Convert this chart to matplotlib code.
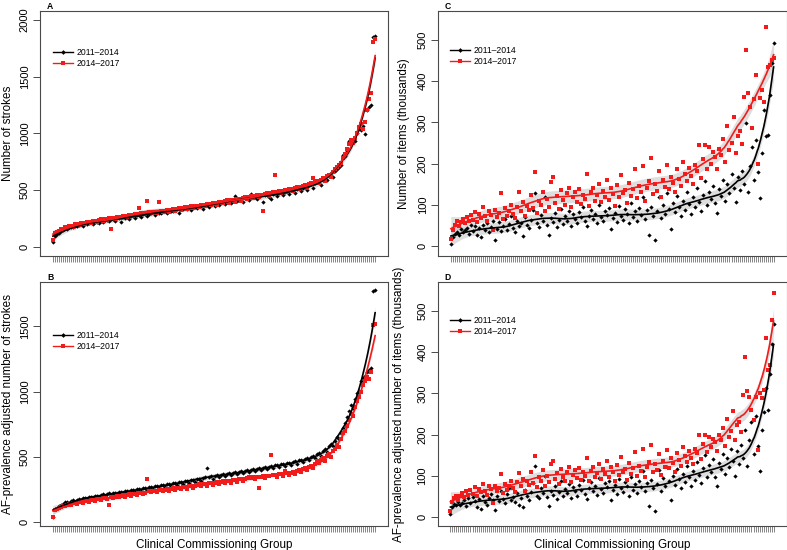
"""Four-panel CCG chart: strokes and prescription items, 2011-2014 vs 2014-2017.

Points are CCGs ordered along the x axis; curves are local quadratic (loess)
fits with 95% bands.
"""

import matplotlib

matplotlib.use("Agg")
import matplotlib.pyplot as plt
import numpy as np
from matplotlib.lines import Line2D

plt.rcParams["font.family"] = ["Liberation Sans", "DejaVu Sans"]

PERIODS = ["2011\u20132014", "2014\u20132017"]
COLORS = ["#000000", "#f21b1b"]
MARKERS = ["D", "s"]
MARKER_SIZES = [2.2, 2.4]

# Panel A: number of strokes per CCG
STROKES_1114 = [
    40, 96, 115, 124, 142, 147, 161, 158, 172, 178,
    170, 186, 183, 190, 201, 187, 207, 199, 211, 216,
    196, 214, 221, 212, 229, 216, 233, 238, 223, 242,
    247, 231, 251, 254, 214, 259, 256, 264, 246, 269,
    272, 255, 278, 281, 264, 287, 292, 270, 289, 297,
    302, 283, 307, 300, 296, 313, 317, 294, 322, 319,
    311, 327, 333, 301, 338, 329, 343, 331, 347, 321,
    352, 350, 340, 357, 363, 336, 367, 372, 351, 378,
    383, 360, 386, 371, 393, 397, 377, 402, 408, 386,
    412, 447, 401, 417, 423, 397, 428, 431, 410, 468,
    437, 442, 418, 447, 452, 396, 456, 463, 438, 422,
    467, 472, 450, 477, 483, 460, 487, 492, 468, 497,
    503, 476, 507, 514, 489, 522, 530, 503, 543, 549,
    518, 558, 575, 583, 546, 602, 614, 588, 632, 647,
    618, 670, 688, 703, 722, 808, 797, 846, 932, 902,
    948, 937, 1003, 1042, 1028, 1062, 993, 1203, 1232, 1248,
    1852, 1860,
]
STROKES_1417 = [
    60, 118, 131, 140, 153, 158, 170, 171, 182, 187,
    177, 196, 202, 191, 207, 211, 197, 217, 222, 211,
    226, 231, 217, 236, 242, 227, 247, 237, 252, 152,
    257, 247, 263, 259, 256, 268, 272, 261, 277, 282,
    267, 287, 292, 344, 297, 301, 285, 407, 306, 297,
    305, 309, 294, 397, 313, 302, 318, 322, 308, 326,
    330, 314, 335, 340, 323, 344, 348, 332, 352, 357,
    345, 356, 362, 348, 366, 370, 356, 374, 380, 364,
    384, 390, 372, 393, 397, 382, 402, 408, 390, 412,
    415, 398, 420, 425, 407, 430, 435, 418, 440, 444,
    428, 450, 455, 436, 460, 311, 464, 470, 450, 475,
    480, 632, 485, 490, 470, 495, 500, 480, 506, 512,
    495, 518, 524, 505, 530, 536, 542, 522, 552, 560,
    610, 572, 580, 560, 592, 602, 584, 620, 636, 615,
    663, 682, 703, 722, 742, 783, 822, 862, 903, 942,
    918, 963, 1004, 1052, 1083, 1041, 1102, 1203, 1302, 1352,
    1805, 1832,
]

# Panel B: AF-prevalence adjusted number of strokes
ADJ_STROKES_1114 = [
    38, 100, 113, 126, 133, 141, 152, 157, 147, 163,
    169, 158, 173, 177, 168, 183, 188, 175, 191, 196,
    184, 201, 205, 192, 209, 213, 199, 217, 221, 207,
    225, 227, 214, 231, 235, 221, 239, 241, 228, 245,
    249, 235, 253, 256, 242, 259, 263, 249, 267, 271,
    255, 275, 279, 263, 283, 287, 271, 291, 295, 279,
    299, 303, 286, 307, 311, 295, 315, 319, 303, 323,
    327, 311, 331, 335, 319, 339, 343, 413, 347, 351,
    335, 355, 359, 343, 363, 367, 351, 371, 375, 359,
    379, 383, 367, 387, 391, 375, 395, 399, 383, 403,
    407, 391, 411, 415, 399, 419, 423, 407, 427, 431,
    415, 435, 439, 423, 443, 447, 431, 451, 456, 439,
    461, 467, 449, 473, 479, 461, 486, 493, 475, 501,
    509, 489, 521, 531, 508, 546, 561, 538, 581, 601,
    583, 622, 651, 638, 681, 722, 758, 802, 851, 898,
    878, 941, 988, 1003, 1078, 1102, 1118, 1152, 1168, 1182,
    1768, 1775,
]
ADJ_STROKES_1417 = [
    43, 95, 104, 112, 120, 128, 124, 136, 141, 133,
    146, 150, 141, 154, 158, 149, 162, 166, 156, 170,
    173, 163, 177, 180, 170, 184, 187, 176, 132, 193,
    183, 197, 200, 190, 204, 207, 196, 210, 213, 202,
    216, 219, 208, 222, 225, 214, 228, 330, 240, 231,
    237, 242, 230, 245, 248, 236, 251, 254, 241, 257,
    260, 247, 263, 266, 253, 269, 272, 258, 275, 278,
    264, 281, 284, 290, 276, 292, 295, 281, 298, 301,
    287, 304, 307, 293, 310, 313, 298, 316, 319, 304,
    322, 325, 310, 328, 331, 316, 334, 337, 350, 340,
    343, 328, 346, 260, 349, 352, 337, 355, 358, 515,
    361, 364, 349, 367, 370, 355, 395, 378, 363, 381,
    386, 372, 392, 398, 384, 405, 412, 398, 420, 430,
    415, 445, 470, 455, 478, 490, 470, 505, 520, 502,
    545, 560, 590, 575, 640, 680, 700, 740, 780, 830,
    815, 880, 930, 960, 1000, 1050, 1080, 1110, 1100, 1150,
    1510, 1520,
]

# Panel C: number of items (thousands)
ITEMS_1114 = [
    6, 22, 30, 35, 28, 41, 33, 38, 45, 30,
    52, 36, 48, 27, 44, 22, 50, 39, 55, 34,
    46, 60, 16, 42, 58, 37, 49, 66, 40, 53,
    72, 44, 35, 61, 48, 57, 24, 70, 52, 43,
    63, 88, 129, 55, 47, 75, 60, 120, 51, 27,
    68, 58, 80, 46, 64, 90, 53, 72, 61, 84,
    49, 77, 66, 55, 82, 70, 95, 60, 48, 74,
    88, 65, 79, 57, 100, 71, 62, 86, 75, 93,
    42, 69, 81, 58, 97, 73, 64, 89, 78, 55,
    104, 70, 84, 62, 92, 76, 118, 66, 87, 27,
    95, 74, 16, 85, 120, 68, 99, 78, 128, 90,
    42, 105, 83, 122, 96, 73, 110, 88, 130, 102,
    78, 118, 95, 140, 108, 86, 125, 158, 100, 132,
    115, 146, 104, 80, 138, 122, 160, 110, 150, 128,
    175, 142, 106, 168, 135, 182, 150, 298, 130, 195,
    240, 160, 257, 180, 117, 225, 330, 267, 269, 366,
    443, 493,
]
ITEMS_1417 = [
    18, 40, 52, 62, 48, 58, 66, 55, 70, 60,
    75, 64, 82, 58, 78, 68, 96, 72, 62, 84,
    76, 38, 88, 70, 80, 128, 66, 92, 74, 86,
    100, 78, 68, 95, 130, 84, 106, 72, 98, 88,
    125, 93, 180, 80, 110, 100, 132, 86, 115, 95,
    156, 168, 105, 122, 90, 135, 112, 100, 128, 140,
    96, 118, 132, 108, 138, 102, 125, 115, 176, 98,
    130, 142, 110, 124, 150, 106, 134, 120, 160, 112,
    140, 126, 98, 148, 118, 172, 128, 136, 104, 152,
    122, 138, 188, 116, 146, 130, 195, 110, 142, 158,
    213, 126, 150, 134, 182, 118, 160, 144, 197, 138,
    168, 152, 130, 186, 162, 146, 205, 175, 158, 190,
    170, 150, 196, 182, 245, 164, 210, 244, 186, 241,
    200, 228, 215, 188, 236, 222, 260, 205, 291, 232,
    250, 314, 226, 268, 280, 248, 362, 476, 370, 338,
    286, 356, 415, 200, 358, 379, 350, 532, 435, 440,
    451, 455,
]

# Panel D: AF-prevalence adjusted number of items (thousands)
ADJ_ITEMS_1114 = [
    7, 25, 31, 28, 36, 30, 34, 40, 27, 45,
    33, 48, 38, 24, 44, 20, 52, 36, 30, 46,
    56, 40, 17, 50, 38, 62, 44, 34, 55, 70,
    42, 48, 36, 58, 28, 45, 23, 66, 50, 40,
    60, 82, 123, 52, 45, 70, 57, 100, 48, 26,
    64, 54, 76, 44, 60, 86, 50, 68, 58, 80,
    46, 72, 62, 52, 78, 66, 90, 56, 44, 70,
    84, 62, 74, 54, 95, 68, 58, 82, 72, 88,
    40, 66, 77, 55, 92, 70, 60, 85, 74, 52,
    98, 66, 80, 58, 88, 72, 112, 62, 82, 26,
    90, 70, 15, 80, 114, 64, 94, 74, 122, 86,
    40, 100, 78, 116, 92, 70, 104, 84, 124, 98,
    74, 112, 90, 134, 102, 82, 118, 150, 96, 126,
    110, 140, 98, 75, 132, 116, 152, 104, 144, 122,
    166, 136, 100, 160, 128, 174, 142, 210, 124, 186,
    230, 152, 244, 171, 111, 212, 254, 313, 260, 347,
    420, 468,
]
ADJ_ITEMS_1417 = [
    14, 36, 46, 52, 42, 50, 58, 48, 62, 54,
    66, 56, 72, 50, 68, 60, 80, 64, 54, 74,
    68, 34, 76, 62, 70, 104, 58, 80, 66, 76,
    88, 70, 60, 84, 106, 74, 92, 64, 86, 78,
    108, 82, 147, 72, 96, 88, 115, 76, 100, 84,
    128, 136, 92, 106, 80, 116, 98, 88, 110, 120,
    84, 102, 114, 94, 118, 90, 108, 100, 143, 86,
    112, 122, 96, 106, 128, 92, 116, 104, 136, 98,
    120, 108, 86, 126, 102, 145, 110, 116, 90, 130,
    104, 118, 158, 100, 124, 112, 165, 96, 122, 134,
    174, 108, 128, 114, 152, 102, 136, 122, 162, 118,
    142, 130, 110, 156, 138, 124, 170, 148, 134, 160,
    144, 128, 166, 154, 200, 140, 176, 198, 158, 194,
    170, 190, 182, 160, 198, 186, 216, 172, 238, 194,
    208, 256, 186, 222, 230, 206, 295, 389, 305, 292,
    260, 236, 290, 163, 300, 288, 309, 434, 357, 369,
    477, 543,
]

PANELS = [
    # letter, ylabel, series, ylim, yticks, show xlabel
    ("A", "Number of strokes", (STROKES_1114, STROKES_1417),
     (-82, 2080), [0, 500, 1000, 1500, 2000], False),
    ("B", "AF-prevalence adjusted number of strokes", (ADJ_STROKES_1114, ADJ_STROKES_1417),
     (-28, 1838), [0, 500, 1000, 1500], True),
    ("C", "Number of items (thousands)", (ITEMS_1114, ITEMS_1417),
     (-24, 570), [0, 100, 200, 300, 400, 500], False),
    ("D", "AF-prevalence adjusted number of items (thousands)", (ADJ_ITEMS_1114, ADJ_ITEMS_1417),
     (-22, 570), [0, 100, 200, 300, 400, 500], True),
]

# axes boxes in pixels: left, top, right, bottom
BOXES = [(40, 11, 388, 256), (40, 282, 388, 526),
         (438, 11, 786.5, 256), (437.5, 282, 786.5, 526)]
LEGEND_ANCHORS = [(0.037, 0.85), (0.037, 0.80), (0.034, 0.856), (0.036, 0.86)]
YLABEL_X = [-0.074, -0.074, -0.081, -0.092]

W, H = 787, 550


def loess(x, y, grid, span=0.3, end_span=0.18):
    """Local quadratic fit with tricube weights; returns fit and std. error.

    The neighbourhood narrows over the last quarter so the steep tail is followed.
    """
    n = len(x)

    def row(x0):
        frac = np.clip((x0 - 0.75 * n) / (0.25 * n), 0, 1)
        q = int(np.floor((span - (span - end_span) * frac) * n))
        d = np.abs(x - x0)
        h = np.sort(d)[q - 1] * 1.0001
        w = np.clip(1 - (d / h) ** 3, 0, None) ** 3
        X = np.column_stack([np.ones(n), x - x0, (x - x0) ** 2])
        XtW = X.T * w
        return np.linalg.solve(XtW @ X, XtW)[0]

    Ld = np.array([row(v) for v in x])
    resid = y - Ld @ y
    sigma = np.sqrt(np.sum(resid ** 2) / (n - np.trace(Ld)))
    Lg = np.array([row(v) for v in grid])
    return Lg @ y, sigma * np.sqrt(np.sum(Lg ** 2, axis=1))


def main() -> None:
    fig = plt.figure(figsize=(W / 100, H / 100), dpi=100)
    edge = "#4a4a4a"

    for (letter, ylabel, series, ylim, yticks, xlab), box, anchor, ylx in zip(
            PANELS, BOXES, LEGEND_ANCHORS, YLABEL_X):
        left, top, right, bottom = box
        ax = fig.add_axes([left / W, 1 - bottom / H, (right - left) / W, (bottom - top) / H])

        n = len(series[0])
        x = np.arange(1, n + 1)
        grid = np.linspace(1, n, 400)
        for vals, color, mk, ms in zip(series, COLORS, MARKERS, MARKER_SIZES):
            y = np.asarray(vals, dtype=float)
            xs = np.arange(1, len(y) + 1)
            fit, se = loess(xs, y, grid)
            ax.fill_between(grid, fit - 1.96 * se, fit + 1.96 * se,
                            color="#c4c4c4", alpha=0.55, lw=0, zorder=1)
            ax.plot(xs, y, ls="none", marker=mk, ms=ms, mew=0,
                    color=color, zorder=2)
            ax.plot(grid, fit, color=color, lw=1.2, zorder=3)

        pad = 0.04 * (n - 1)
        ax.set_xlim(1 - pad, n + pad)
        ax.set_ylim(*ylim)
        ax.set_xticks(x)
        ax.set_xticklabels([])
        ax.set_yticks(yticks)
        ax.set_yticklabels([str(t) for t in yticks], rotation=90, va="center")
        ax.tick_params(axis="x", length=4.2, width=0.5, color="#555555")
        ax.tick_params(axis="y", length=4.8, width=0.7, color=edge,
                       labelsize=8, pad=2.5)
        for sp in ax.spines.values():
            sp.set_color(edge)
            sp.set_linewidth(0.8)

        ax.set_ylabel(ylabel, fontsize=8.4)
        ax.yaxis.set_label_coords(ylx, 0.5)
        if xlab:
            ax.set_xlabel("Clinical Commissioning Group", fontsize=8.4, labelpad=1.5)

        handles = [Line2D([], [], color=c, lw=1.0, marker=m, ms=2.4, mew=0)
                   for c, m in zip(COLORS, MARKERS)]
        ax.legend(handles, PERIODS, loc="upper left", bbox_to_anchor=anchor,
                  frameon=False, fontsize=6.2, handlelength=2.3,
                  handletextpad=0.45, labelspacing=0.25, borderaxespad=0,
                  borderpad=0)

        fig.text((left + 7) / W, 1 - (top - 9) / H, letter, fontsize=6.2,
                 fontweight="bold", ha="left", va="top")

    fig.savefig("out.png", dpi=100)


if __name__ == "__main__":
    main()
